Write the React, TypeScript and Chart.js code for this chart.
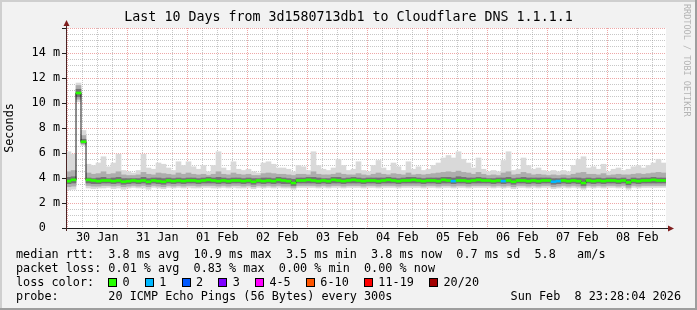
import React, { useEffect, useRef } from 'react';
import { Chart, registerables } from 'chart.js';

Chart.register(...registerables);

// ---- time axis (hours since 30 Jan 00:00) ----
const dayLabels = ['30 Jan', '31 Jan', '01 Feb', '02 Feb', '03 Feb', '04 Feb', '05 Feb', '06 Feb', '07 Feb', '08 Feb'];
const axisStartHour = -0.5;
const axisEndHour = 239.5;
const binStartHour = -0.5;
const binWidthHours = 2;

// ---- median rtt per 2h bin (ms) ----
const median = [
  3.75, 3.85, 10.8, 6.9, 3.85, 3.8, 3.75, 3.8, 3.8, 3.75, 3.8, 3.7, 3.75, 3.8, 3.75, 3.8, 3.7, 3.8, 3.75, 3.7,
  3.8, 3.75, 3.8, 3.75, 3.8, 3.8, 3.75, 3.8, 3.85, 3.8, 3.75, 3.8, 3.75, 3.8, 3.8, 3.75, 3.8, 3.7, 3.8, 3.75,
  3.8, 3.75, 3.85, 3.8, 3.75, 3.6, 3.8, 3.8, 3.85, 3.8, 3.75, 3.8, 3.75, 3.85, 3.8, 3.75, 3.8, 3.85, 3.8, 3.75,
  3.8, 3.8, 3.75, 3.8, 3.85, 3.8, 3.75, 3.8, 3.8, 3.85, 3.8, 3.75, 3.8, 3.8, 3.75, 3.85, 3.8, 3.75, 3.8, 3.8,
  3.75, 3.8, 3.85, 3.8, 3.8, 3.75, 3.8, 3.75, 3.8, 3.7, 3.8, 3.8, 3.75, 3.8, 3.75, 3.8, 3.8, 3.7, 3.75, 3.8,
  3.75, 3.8, 3.75, 3.6, 3.8, 3.75, 3.8, 3.75, 3.8, 3.8, 3.75, 3.8, 3.65, 3.8, 3.75, 3.8, 3.8, 3.85, 3.8, 3.8,
];

// ---- lost pings (of 20) per bin ----
const lossCount = [
  0, 0, 0, 0, 0, 0, 0, 0, 0, 0, 0, 0, 0, 0, 0, 0, 0, 0, 0, 0,
  0, 0, 0, 0, 0, 0, 0, 0, 0, 0, 0, 0, 0, 0, 0, 0, 0, 0, 0, 0,
  0, 0, 0, 0, 0, 0, 0, 0, 0, 0, 0, 0, 0, 0, 0, 0, 0, 0, 0, 0,
  0, 0, 0, 0, 0, 0, 0, 0, 0, 0, 0, 0, 0, 0, 0, 0, 0, 1, 0, 0,
  0, 0, 0, 0, 0, 0, 0, 1, 0, 0, 0, 0, 0, 0, 0, 0, 0, 1, 1, 0,
  0, 0, 0, 0, 0, 0, 0, 0, 0, 0, 0, 0, 0, 0, 0, 0, 0, 0, 0, 0,
];

// ---- smoke: ping distribution per bin (ms) ----
const pingMax = [
  6.1, 5.9, 11.6, 7.8, 5.1, 5.0, 5.2, 5.7, 4.9, 5.2,
  5.9, 4.6, 4.5, 4.4, 4.6, 5.9, 4.8, 4.7, 5.2, 5.1,
  4.8, 4.6, 5.3, 5.0, 5.3, 4.9, 4.7, 5.0, 4.5, 5.0,
  6.1, 4.8, 4.6, 5.3, 4.7, 4.6, 4.7, 4.5, 4.4, 5.2,
  5.3, 5.1, 4.8, 4.8, 4.7, 4.5, 5.0, 4.9, 4.6, 6.1,
  5.0, 4.7, 4.6, 4.8, 5.5, 5.0, 4.6, 4.7, 5.3, 4.6,
  4.5, 5.0, 5.4, 4.8, 4.6, 5.2, 4.9, 4.6, 5.3, 4.7,
  4.9, 4.6, 4.7, 5.0, 5.2, 5.6, 5.8, 5.6, 6.1, 5.5,
  5.2, 4.8, 5.6, 4.7, 4.5, 4.6, 4.5, 5.4, 6.1, 4.6,
  4.7, 5.6, 5.0, 4.7, 4.8, 4.6, 4.5, 4.6, 4.5, 4.6,
  4.5, 5.0, 5.5, 5.7, 4.8, 4.9, 4.7, 5.1, 4.5, 4.7,
  4.8, 4.6, 4.7, 4.9, 5.0, 4.8, 5.0, 5.2, 5.5, 5.2,
];
const pingP90 = [
  4.5, 4.6, 11.4, 7.4, 4.4, 4.3, 4.35, 4.5, 4.3, 4.35,
  4.5, 4.25, 4.2, 4.2, 4.25, 4.45, 4.3, 4.25, 4.4, 4.35,
  4.3, 4.25, 4.4, 4.3, 4.4, 4.3, 4.25, 4.3, 4.2, 4.3,
  4.5, 4.3, 4.25, 4.4, 4.3, 4.25, 4.3, 4.2, 4.2, 4.35,
  4.4, 4.35, 4.3, 4.3, 4.25, 4.2, 4.3, 4.3, 4.25, 4.5,
  4.3, 4.25, 4.25, 4.3, 4.4, 4.3, 4.25, 4.25, 4.35, 4.25,
  4.2, 4.3, 4.4, 4.3, 4.25, 4.35, 4.3, 4.25, 4.4, 4.25,
  4.3, 4.25, 4.3, 4.35, 4.4, 4.45, 4.5, 4.45, 4.55, 4.45,
  4.4, 4.3, 4.45, 4.3, 4.2, 4.25, 4.2, 4.4, 4.5, 4.25,
  4.3, 4.45, 4.35, 4.25, 4.3, 4.25, 4.2, 4.25, 4.2, 4.25,
  4.2, 4.3, 4.4, 4.45, 4.3, 4.3, 4.25, 4.35, 4.2, 4.25,
  4.3, 4.25, 4.25, 4.3, 4.35, 4.3, 4.35, 4.4, 4.45, 4.4,
];
const pingP75 = [
  4.05, 4.1, 11.1, 7.1, 4.0, 3.95, 4.0, 4.05, 3.95, 4.0,
  4.05, 3.95, 3.95, 3.95, 3.95, 4.05, 3.95, 4.0, 4.0, 3.95,
  4.0, 3.95, 4.0, 3.95, 4.0, 4.0, 3.95, 4.0, 4.05, 4.0,
  4.05, 4.0, 3.95, 4.0, 4.0, 3.95, 4.0, 3.95, 3.95, 4.0,
  4.0, 3.95, 4.05, 4.0, 3.95, 3.9, 4.0, 4.0, 4.05, 4.05,
  4.0, 3.95, 3.95, 4.05, 4.05, 3.95, 4.0, 4.05, 4.0, 3.95,
  4.0, 4.0, 4.0, 4.0, 4.05, 4.0, 3.95, 4.0, 4.05, 4.05,
  4.0, 3.95, 4.0, 4.0, 4.0, 4.05, 4.05, 4.0, 4.1, 4.05,
  4.0, 4.0, 4.05, 4.0, 3.95, 3.95, 4.0, 4.0, 4.05, 3.95,
  4.0, 4.05, 4.0, 4.0, 4.0, 4.0, 4.0, 3.95, 3.95, 4.0,
  3.95, 4.0, 4.0, 3.95, 4.0, 3.95, 4.0, 3.95, 4.0, 4.0,
  3.95, 4.0, 3.9, 4.0, 3.95, 4.0, 4.0, 4.05, 4.0, 4.0,
];
const pingP25 = [
  3.55, 3.6, 10.5, 6.8, 3.6, 3.55, 3.55, 3.6, 3.6, 3.55,
  3.6, 3.5, 3.55, 3.6, 3.55, 3.6, 3.5, 3.6, 3.55, 3.5,
  3.6, 3.55, 3.6, 3.55, 3.6, 3.6, 3.55, 3.6, 3.6, 3.6,
  3.55, 3.6, 3.55, 3.6, 3.6, 3.55, 3.6, 3.5, 3.6, 3.55,
  3.6, 3.55, 3.6, 3.55, 3.55, 3.4, 3.6, 3.6, 3.6, 3.6,
  3.55, 3.6, 3.55, 3.6, 3.6, 3.55, 3.6, 3.6, 3.6, 3.55,
  3.6, 3.6, 3.55, 3.6, 3.6, 3.6, 3.55, 3.6, 3.6, 3.6,
  3.6, 3.55, 3.6, 3.6, 3.55, 3.6, 3.6, 3.55, 3.6, 3.6,
  3.55, 3.6, 3.6, 3.6, 3.6, 3.55, 3.6, 3.55, 3.6, 3.5,
  3.6, 3.6, 3.55, 3.6, 3.55, 3.6, 3.6, 3.5, 3.55, 3.6,
  3.55, 3.6, 3.55, 3.4, 3.6, 3.55, 3.6, 3.55, 3.6, 3.6,
  3.55, 3.6, 3.45, 3.6, 3.55, 3.6, 3.6, 3.6, 3.6, 3.6,
];
const pingP10 = [
  3.3, 3.35, 10.3, 6.7, 3.4, 3.35, 3.35, 3.4, 3.4, 3.35,
  3.4, 3.3, 3.35, 3.4, 3.35, 3.4, 3.3, 3.4, 3.35, 3.3,
  3.4, 3.35, 3.4, 3.35, 3.4, 3.4, 3.35, 3.4, 3.4, 3.4,
  3.35, 3.4, 3.35, 3.4, 3.4, 3.35, 3.4, 3.3, 3.4, 3.35,
  3.4, 3.35, 3.4, 3.35, 3.35, 3.25, 3.4, 3.4, 3.4, 3.4,
  3.35, 3.4, 3.35, 3.4, 3.4, 3.35, 3.4, 3.4, 3.4, 3.35,
  3.4, 3.4, 3.35, 3.4, 3.4, 3.4, 3.35, 3.4, 3.4, 3.4,
  3.4, 3.35, 3.4, 3.4, 3.35, 3.4, 3.4, 3.35, 3.4, 3.4,
  3.35, 3.4, 3.4, 3.4, 3.4, 3.35, 3.4, 3.35, 3.4, 3.3,
  3.4, 3.4, 3.35, 3.4, 3.35, 3.4, 3.4, 3.3, 3.35, 3.4,
  3.35, 3.4, 3.35, 3.25, 3.4, 3.35, 3.4, 3.35, 3.4, 3.4,
  3.35, 3.4, 3.25, 3.4, 3.35, 3.4, 3.4, 3.4, 3.4, 3.4,
];
const pingMin = [
  3.05, 3.1, 10.1, 6.6, 3.2, 3.15, 3.2, 3.2, 3.25, 3.15,
  3.2, 3.1, 3.2, 3.25, 3.2, 3.2, 3.1, 3.25, 3.2, 3.15,
  3.25, 3.2, 3.25, 3.2, 3.25, 3.2, 3.2, 3.25, 3.25, 3.2,
  3.2, 3.25, 3.2, 3.25, 3.2, 3.2, 3.25, 3.15, 3.25, 3.2,
  3.25, 3.2, 3.25, 3.2, 3.2, 3.1, 3.25, 3.25, 3.25, 3.25,
  3.2, 3.25, 3.2, 3.25, 3.25, 3.2, 3.25, 3.25, 3.25, 3.2,
  3.25, 3.25, 3.2, 3.25, 3.25, 3.25, 3.2, 3.25, 3.25, 3.25,
  3.25, 3.2, 3.25, 3.25, 3.2, 3.25, 3.25, 3.2, 3.25, 3.25,
  3.2, 3.25, 3.25, 3.25, 3.25, 3.2, 3.25, 3.2, 3.25, 3.15,
  3.25, 3.25, 3.2, 3.25, 3.2, 3.25, 3.25, 3.15, 3.2, 3.25,
  3.2, 3.25, 3.2, 3.1, 3.25, 3.2, 3.25, 3.2, 3.25, 3.25,
  3.2, 3.25, 3.1, 3.25, 3.2, 3.25, 3.25, 3.25, 3.25, 3.25,
];

// ---- legend ----
const lossLabels = ['0', '1', '2', '3', '4-5', '6-10', '11-19', '20/20'];
const lossColors = ['#26ff00', '#00b8ff', '#0059ff', '#7e00ff', '#ff00ff', '#ff5500', '#ff0000', '#a10000'];
const lossUpper = [0, 1, 2, 3, 5, 10, 19, 20];
const titleText = 'Last 10 Days from 3d1580713db1 to Cloudflare DNS 1.1.1.1';
const rttLine = 'median rtt:  3.8 ms avg  10.9 ms max  3.5 ms min  3.8 ms now  0.7 ms sd  5.8   am/s';
const lossLine = 'packet loss: 0.01 % avg  0.83 % max  0.00 % min  0.00 % now';
const probeLine = 'probe:       20 ICMP Echo Pings (56 Bytes) every 300s';
const dateText = 'Sun Feb  8 23:28:04 2026';
const watermark = 'RRDTOOL / TOBI OETIKER';

const MONO = '"DejaVu Sans Mono", monospace';
const SMALL = 11.8;
const GRID = 'rgba(143,143,143,0.5)';
const MGRID = 'rgba(222,79,79,0.5)';

function lossColor(n: number) {
  for (let k = 0; k < lossUpper.length; k++) if (n <= lossUpper[k]) return lossColors[k];
  return lossColors[lossColors.length - 1];
}

const decorPlugin = {
  id: 'rrdDecor',
  beforeDraw(chart: any) {
    const { ctx, chartArea, width, height } = chart;
    ctx.save();
    ctx.fillStyle = '#f2f2f2';
    ctx.fillRect(0, 0, width, height);
    ctx.fillStyle = '#cfcfcf';
    ctx.fillRect(0, 0, width, 2);
    ctx.fillRect(0, 0, 2, height);
    ctx.fillStyle = '#9e9e9e';
    ctx.fillRect(0, height - 2, width, 2);
    ctx.fillRect(width - 2, 0, 2, height);
    ctx.fillStyle = '#ffffff';
    ctx.fillRect(chartArea.left, chartArea.top, chartArea.right - chartArea.left, chartArea.bottom - chartArea.top);
    ctx.restore();
  },
  afterDraw(chart: any) {
    const { ctx, chartArea } = chart;
    const L = chartArea.left + 0.5;
    const B = chartArea.bottom + 0.5;
    ctx.save();
    // axes
    ctx.lineWidth = 1;
    ctx.strokeStyle = '#1f1f1f';
    ctx.beginPath();
    ctx.moveTo(chartArea.left - 4, B);
    ctx.lineTo(chartArea.right + 3, B);
    ctx.stroke();
    ctx.strokeStyle = '#4a2424';
    ctx.beginPath();
    ctx.moveTo(L, chartArea.bottom + 3);
    ctx.lineTo(L, chartArea.top - 4);
    ctx.stroke();
    // arrows
    ctx.fillStyle = '#801f1f';
    ctx.beginPath();
    ctx.moveTo(L - 3, chartArea.top - 2);
    ctx.lineTo(L + 3, chartArea.top - 2);
    ctx.lineTo(L, chartArea.top - 8);
    ctx.closePath();
    ctx.fill();
    ctx.beginPath();
    ctx.moveTo(chartArea.right + 2, B - 3);
    ctx.lineTo(chartArea.right + 2, B + 3);
    ctx.lineTo(chartArea.right + 8, B);
    ctx.closePath();
    ctx.fill();

    // title
    ctx.fillStyle = '#000';
    ctx.textBaseline = 'middle';
    ctx.textAlign = 'center';
    ctx.font = `13.3px ${MONO}`;
    ctx.fillText(titleText, 348.5, 18);

    // legend
    ctx.font = `${SMALL}px ${MONO}`;
    ctx.textAlign = 'left';
    const adv = ctx.measureText('0').width;
    const x0 = 16;
    ctx.fillText(rttLine, x0, 254.5);
    ctx.fillText(lossLine, x0, 268.5);
    ctx.fillText('loss color:', x0, 282.5);
    let bx = x0 + 13 * adv;
    lossLabels.forEach((lab, k) => {
      ctx.fillStyle = lossColors[k];
      ctx.fillRect(Math.round(bx), 278, 8, 8);
      ctx.strokeStyle = '#000';
      ctx.strokeRect(Math.round(bx) + 0.5, 278.5, 8, 8);
      ctx.fillStyle = '#000';
      ctx.fillText(lab, bx + 2 * adv, 282.5);
      bx += (lab.length + 4.17) * adv;
    });
    ctx.fillText(probeLine, x0, 296.5);
    ctx.textAlign = 'right';
    ctx.fillText(dateText, 681, 296.5);

    // watermark
    ctx.translate(686.5, 4);
    ctx.rotate(Math.PI / 2);
    ctx.textAlign = 'left';
    ctx.font = `8.5px ${MONO}`;
    ctx.fillStyle = '#b4b4b4';
    ctx.fillText(watermark, 0, 0);
    ctx.restore();
  },
};

export default function App() {
  const ref = useRef<HTMLCanvasElement>(null);
  useEffect(() => {
    if (!ref.current) return;
    const xs = median.map((_, i) => binStartHour + binWidthHours * (i + 0.5));
    const band = (lo: number[], hi: number[], color: string, order: number) => ({
      type: 'bar' as const,
      data: xs.map((x, i) => ({ x, y: [lo[i], hi[i]] })),
      backgroundColor: color,
      borderWidth: 0,
      barPercentage: 1,
      categoryPercentage: 1,
      grouped: false,
      order,
    });
    const xTicks: number[] = [];
    for (let h = 0; h < axisEndHour; h += 6) xTicks.push(h);

    const chart = new Chart(ref.current, {
      type: 'bar',
      data: {
        datasets: [
          {
            type: 'bar',
            data: xs.map((x, i) => ({ x, y: [median[i] - 0.08, median[i] + 0.08] })),
            backgroundColor: lossCount.map(lossColor),
            borderWidth: 0,
            barPercentage: 1,
            categoryPercentage: 1,
            grouped: false,
            order: 0,
          } as any,
          {
            type: 'line',
            data: xs.map((x, i) => ({ x, y: median[i] })),
            borderColor: '#1a1a1a',
            borderWidth: 1,
            pointRadius: 0,
            stepped: 'middle',
            order: 1,
          } as any,
          band(pingP25, pingP75, '#737373', 2) as any,
          band(pingP10, pingP90, '#adadad', 3) as any,
          band(pingMin, pingMax, '#d9d9d9', 4) as any,
        ],
      },
      options: {
        responsive: false,
        animation: false,
        events: [],
        layout: { padding: { left: 0, top: 28, right: 31, bottom: 62 } },
        plugins: { legend: { display: false }, tooltip: { enabled: false }, title: { display: false } },
        scales: {
          x: {
            type: 'linear',
            min: axisStartHour,
            max: axisEndHour,
            offset: false,
            z: 1,
            afterFit: (s: any) => { s.height = 20; },
            afterBuildTicks: (s: any) => { s.ticks = xTicks.map((v) => ({ value: v })); },
            grid: {
              offset: false,
              drawTicks: false,
              lineWidth: 1,
              color: (c: any) => (c.tick && c.tick.value % 24 === 0 ? MGRID : GRID),
            },
            border: { display: false, dash: [1, 1] },
            ticks: {
              autoSkip: false,
              maxRotation: 0,
              padding: 3,
              color: '#000',
              font: { family: MONO, size: SMALL },
              callback: (v: any) => {
                const n = Number(v);
                return (n - 12) % 24 === 0 ? dayLabels[(n - 12) / 24] : '';
              },
            },
          },
          y: {
            type: 'linear',
            min: 0,
            max: 16,
            z: 1,
            afterFit: (s: any) => { s.width = 66; },
            grid: {
              lineWidth: 1,
              drawTicks: true,
              tickLength: 4,
              color: (c: any) => (c.tick && c.tick.value % 2 === 0 ? MGRID : GRID),
              tickColor: (c: any) => (c.tick && c.tick.value % 2 === 0 ? '#1f1f1f' : 'rgba(0,0,0,0)'),
            },
            border: { display: false, dash: [1, 1] },
            title: {
              display: true,
              text: 'Seconds',
              color: '#000',
              font: { family: MONO, size: SMALL },
              padding: { top: 3, bottom: 0 },
            },
            ticks: {
              stepSize: 0.5,
              autoSkip: false,
              padding: 2,
              color: '#000',
              font: { family: MONO, size: SMALL },
              callback: (v: any) => {
                const n = Number(v);
                if (n % 2 !== 0 || n === 16) return '';
                return n === 0 ? '0  ' : `${n} m`;
              },
            },
          },
        },
      },
      plugins: [decorPlugin],
    });
    return () => chart.destroy();
  }, []);

  return (
    <div style={{ position: 'fixed', left: 0, top: 0, width: 697, height: 310 }}>
      <canvas ref={ref} width={697} height={310} style={{ display: 'block', width: 697, height: 310 }} />
    </div>
  );
}
